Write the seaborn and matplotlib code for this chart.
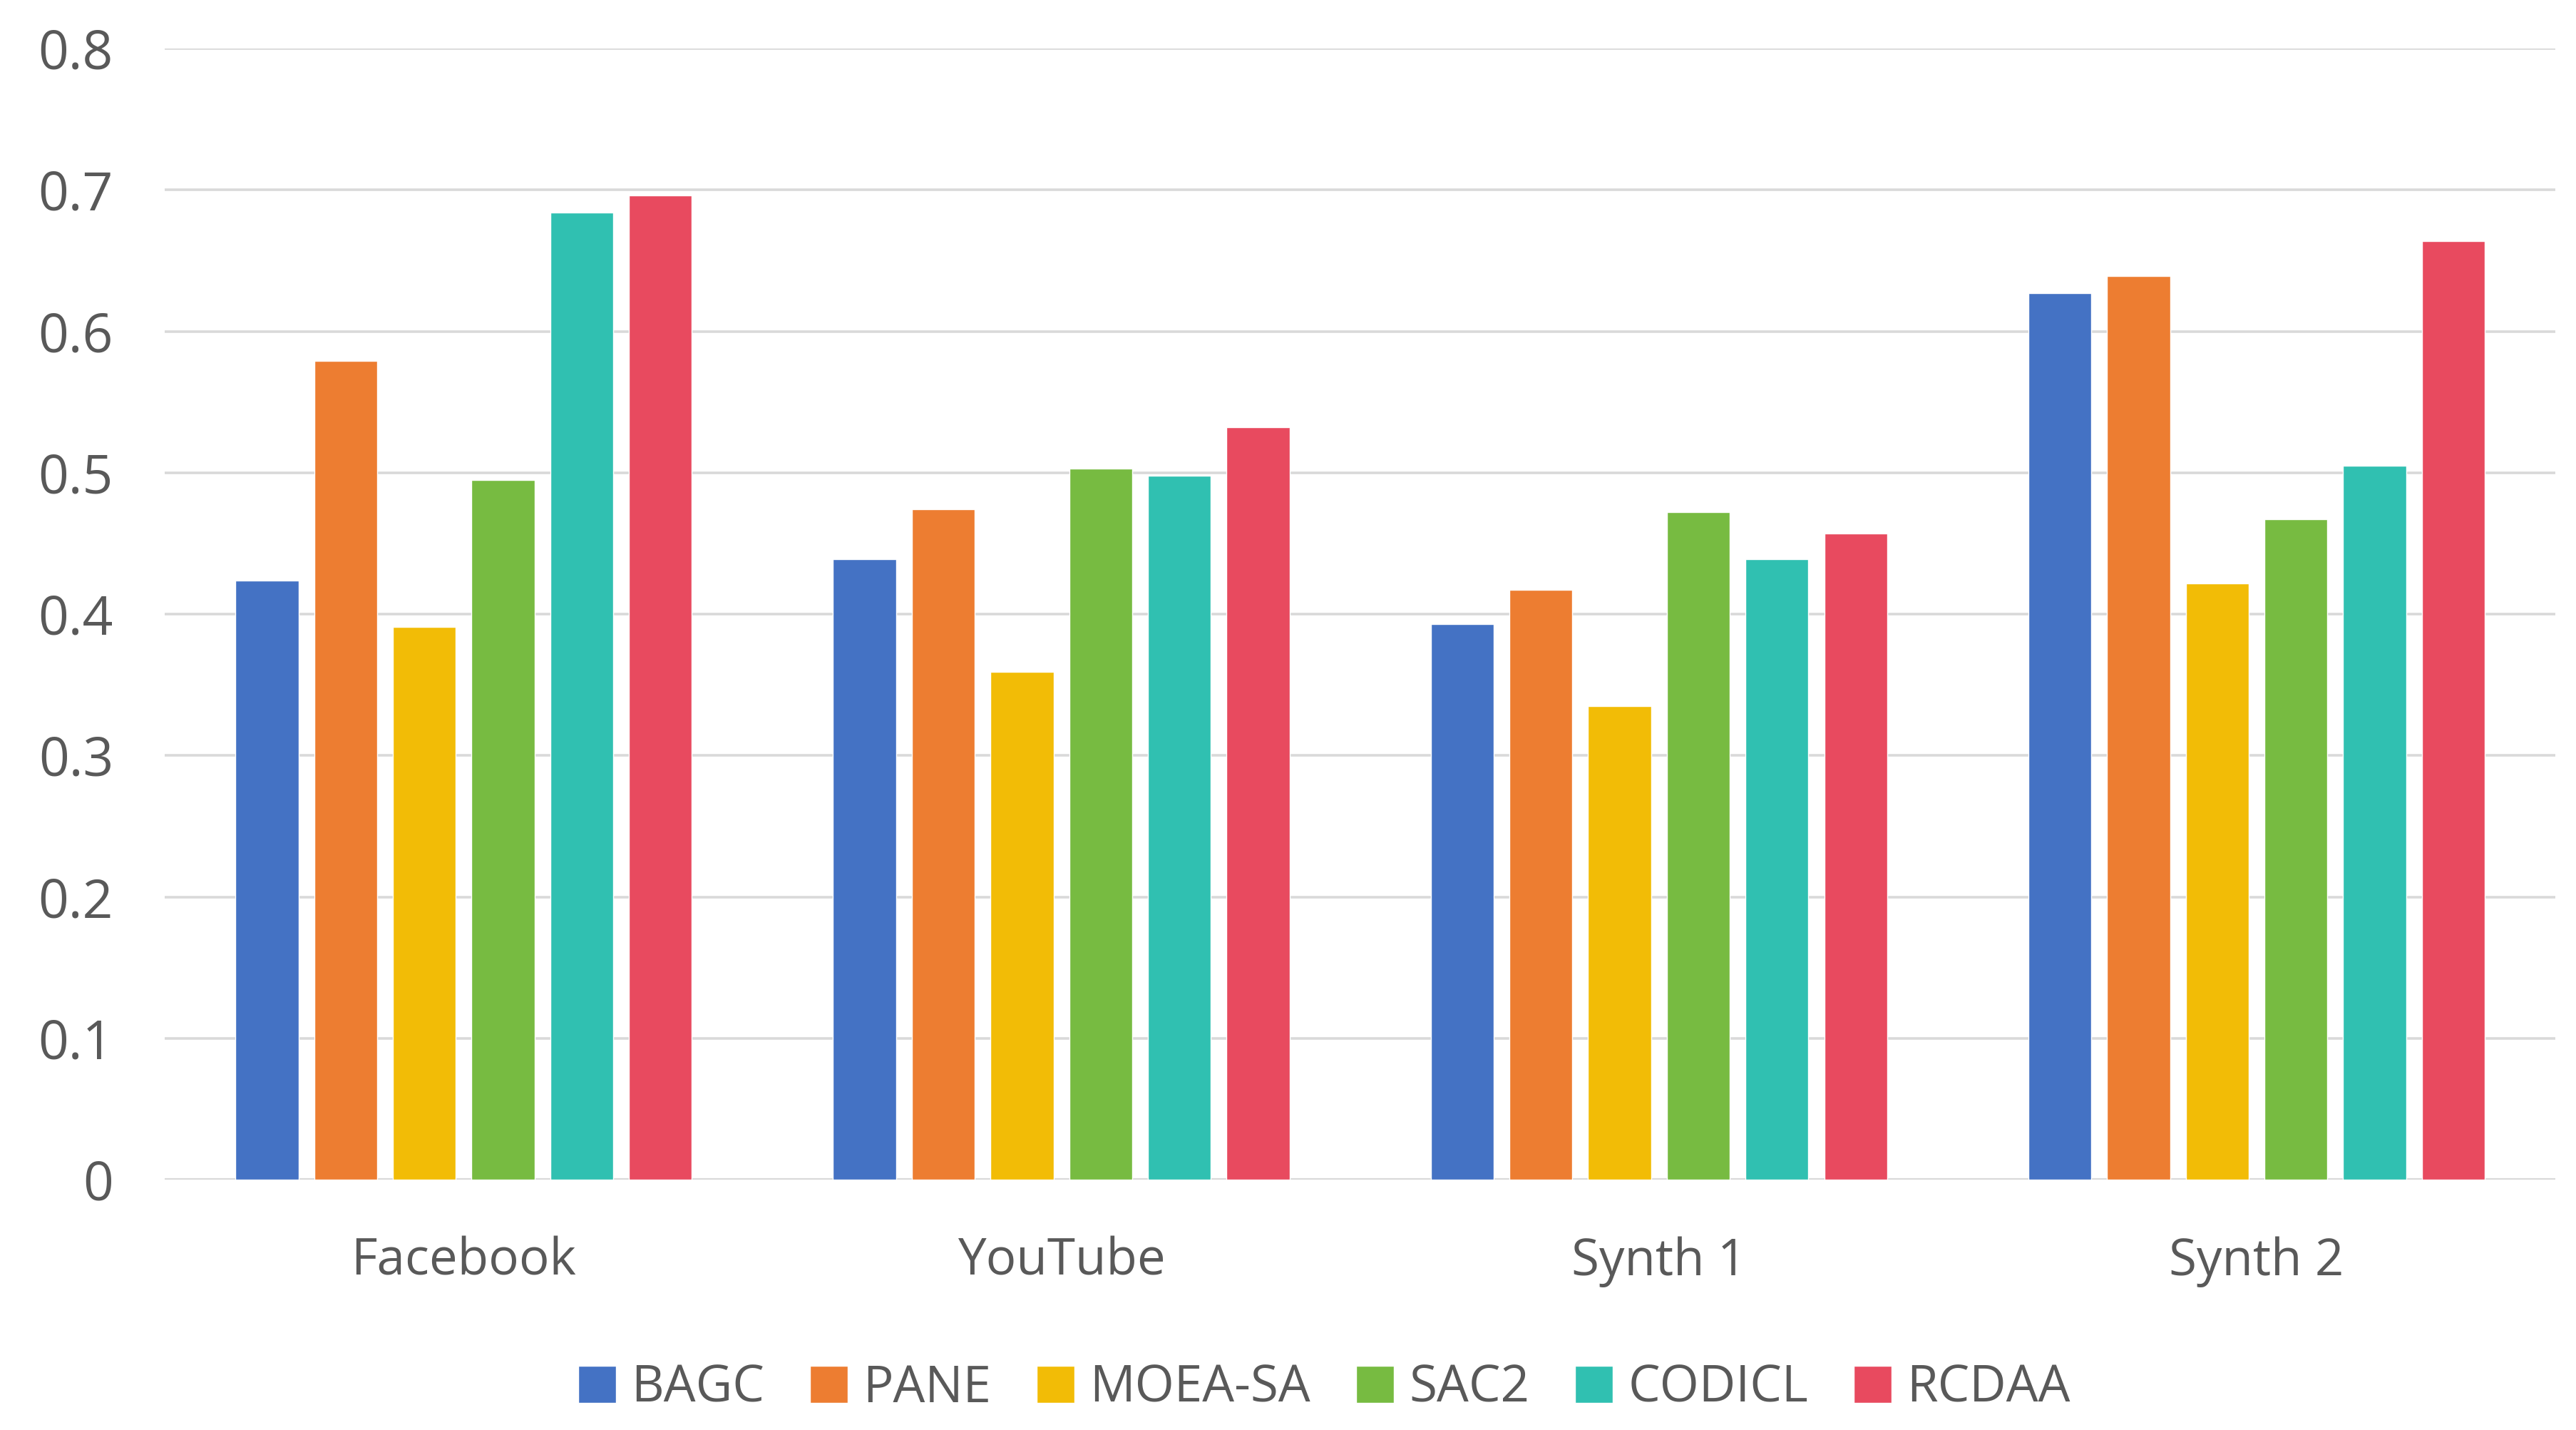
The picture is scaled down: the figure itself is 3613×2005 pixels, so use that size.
import numpy as np
import pandas as pd
import matplotlib
matplotlib.use("Agg")
import matplotlib.pyplot as plt
import seaborn as sns

# data
datasets = ["Facebook", "YouTube", "Synth 1", "Synth 2"]
methods = ["BAGC", "PANE", "MOEA-SA", "SAC2", "CODICL", "RCDAA"]
bagc = [0.424, 0.439, 0.393, 0.627]
pane = [0.579, 0.474, 0.417, 0.639]
moea_sa = [0.391, 0.359, 0.335, 0.422]
sac2 = [0.495, 0.503, 0.472, 0.467]
codicl = [0.684, 0.498, 0.439, 0.505]
rcdaa = [0.696, 0.532, 0.457, 0.664]
colors = ["#4472C4", "#ED7D31", "#F2BC06", "#77BB41", "#30C0B1", "#E84A5F"]

series = [bagc, pane, moea_sa, sac2, codicl, rcdaa]
rows = []
for m, vals in zip(methods, series):
    for d, v in zip(datasets, vals):
        rows.append({"dataset": d, "method": m, "value": v})
df = pd.DataFrame(rows)

sns.set_theme(style="white")
plt.rcParams["font.family"] = ["Open Sans", "DejaVu Sans"]

fig = plt.figure(figsize=(36.13, 20.05), dpi=100)
ax = fig.add_axes([0.064, 0.175, 0.928, 0.791])

sns.barplot(data=df, x="dataset", y="value", hue="method", order=datasets,
            hue_order=methods, palette=colors, width=0.79, gap=0.2,
            saturation=1, errorbar=None, ax=ax)

ax.set_ylim(0, 0.8)
ax.set_xlim(-0.5, 3.5)
ax.set_yticks(np.arange(0, 0.81, 0.1))
ax.set_yticklabels(["0"] + [f"{t:.1f}" for t in np.arange(0.1, 0.81, 0.1)])
ax.yaxis.grid(True, color="#D9D9D9", linewidth=2.6)
ax.set_axisbelow(True)
ax.axhline(0, color="#D0D0D0", linewidth=3, zorder=0.5)
for s in ax.spines.values():
    s.set_visible(False)
ax.set_xlabel("")
ax.set_ylabel("")
ax.tick_params(axis="both", length=0, labelcolor="#595959")
ax.tick_params(axis="y", pad=52, labelsize=54)
ax.tick_params(axis="x", pad=57, labelsize=51)

leg = ax.legend(loc="upper center", bbox_to_anchor=(0.485, -0.122), ncol=6,
                frameon=False, fontsize=51, handlelength=0.75, handleheight=0.75,
                handletextpad=0.3, columnspacing=0.9)
for t in leg.get_texts():
    t.set_color("#595959")

fig.savefig("out.png", dpi=100, facecolor="white")
